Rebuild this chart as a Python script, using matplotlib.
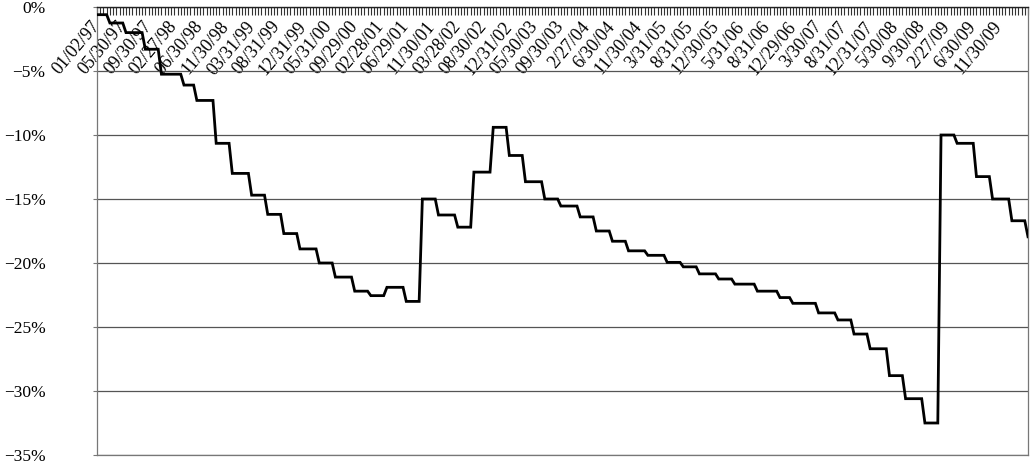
import numpy as np
import matplotlib
matplotlib.use("Agg")
import matplotlib.pyplot as plt
import matplotlib.ticker as mticker

# category axis: one point per observation date, label every 8th
n_categories = 290
label_step = 8
date_labels = ["01/02/97", "05/30/97", "09/30/97", "02/27/98", "06/30/98", "11/30/98",
               "03/31/99", "08/31/99", "12/31/99", "05/31/00", "09/29/00", "02/28/01",
               "06/29/01", "11/30/01", "03/28/02", "08/30/02", "12/31/02", "05/30/03",
               "09/30/03", "2/27/04", "6/30/04", "11/30/04", "3/31/05", "8/31/05",
               "12/30/05", "5/31/06", "8/31/06", "12/29/06", "3/30/07", "8/31/07",
               "12/31/07", "5/30/08", "9/30/08", "2/27/09", "6/30/09", "11/30/09"]

# series is quarterly, held flat between updates:
# category index where each new value starts, and the value (%)
level_start = [0, 4, 9, 15, 20, 27, 31, 37, 42, 48, 53, 58, 63, 69, 74, 80, 85, 90,
               96, 101, 106, 112, 117, 123, 128, 133, 139, 144, 150, 155, 160, 165,
               171, 177, 182, 187, 193, 198, 205, 212, 216, 224, 230, 235, 240, 246,
               251, 257, 262, 267, 273, 278, 284, 289]
level_value = [-0.6, -1.25, -2.0, -3.3, -5.25, -6.1, -7.3, -10.65, -13.0, -14.7,
               -16.2, -17.7, -18.9, -20.0, -21.1, -22.2, -22.55, -21.9, -23.0, -15.0,
               -16.25, -17.2, -12.9, -9.4, -11.6, -13.65, -15.0, -15.55, -16.4, -17.5,
               -18.3, -19.05, -19.4, -19.95, -20.3, -20.85, -21.25, -21.65, -22.2,
               -22.7, -23.15, -23.9, -24.45, -25.55, -26.7, -28.8, -30.6, -32.5,
               -10.0, -10.65, -13.25, -15.0, -16.7, -17.95]

y_ticks = [0, -5, -10, -15, -20, -25, -30, -35]


def pct(v, pos):
    return "0%" if v == 0 else "\u2212%d%%" % abs(v)


def plot_it():
    plt.rcParams['font.family'] = ['Liberation Serif', 'DejaVu Serif']
    fig = plt.figure(figsize=(10.3, 4.62), dpi=100)
    ax = fig.add_axes([97 / 1030, 7 / 462, 931 / 1030, 448 / 462])

    runs = np.diff(level_start + [n_categories])
    series = np.repeat(level_value, runs)
    ax.plot(np.arange(n_categories), series, color='black', lw=2.0,
            solid_joinstyle='miter', zorder=3)

    ax.set_xlim(0, n_categories - 1)
    ax.set_ylim(-35, 0)

    # y axis
    ax.set_yticks(y_ticks)
    ax.yaxis.set_major_formatter(mticker.FuncFormatter(pct))
    ax.tick_params(axis='y', length=3, width=0.8, color='#777777', pad=34,
                   labelsize=12.5)
    ax.grid(axis='y', color='#555555', lw=0.9)

    # category axis sits at 0% on top, labels hang down inside the plot
    ax.xaxis.tick_top()
    ax.set_xticks(np.arange(0, len(date_labels) * label_step, label_step))
    ax.set_xticklabels(date_labels)
    ax.set_xticks(np.arange(n_categories), minor=True)
    ax.tick_params(axis='x', which='both', direction='in', length=5.5, width=0.8,
                   color='#333333', pad=-12, labelsize=13)
    for lab in ax.get_xticklabels():
        lab.set_rotation(50)
        lab.set_rotation_mode('anchor')
        lab.set_ha('right')
        lab.set_va('center')

    for side in ['left', 'right', 'bottom']:
        ax.spines[side].set_color('#777777')
        ax.spines[side].set_linewidth(0.9)
    ax.spines['top'].set_color('#222222')
    ax.spines['top'].set_linewidth(1.0)
    ax.set_axisbelow(True)
    return fig


if __name__ == "__main__":
    fig = plot_it()
    fig.savefig("out.png", dpi=100)
